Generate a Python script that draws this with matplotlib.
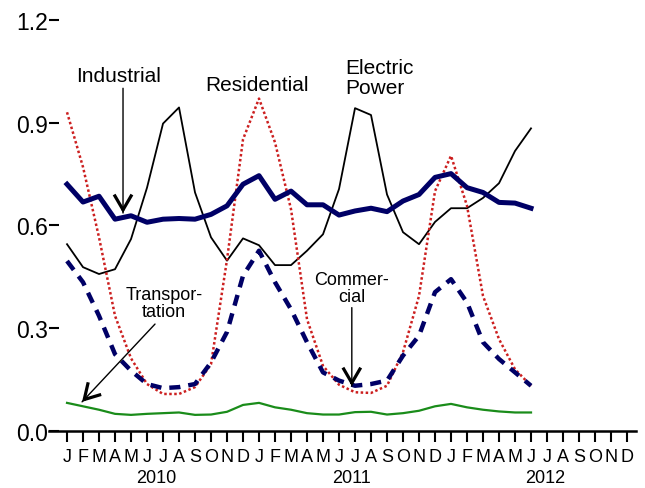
import matplotlib.pyplot as plt

plt.rcParams['font.family'] = ['Liberation Sans', 'DejaVu Sans']

# months Jan 2010 .. Jun 2012
months = list(range(30))
month_labels = ['J', 'F', 'M', 'A', 'M', 'J', 'J', 'A', 'S', 'O', 'N', 'D'] * 3
years = ['2010', '2011', '2012']
year_pos = [5.6, 17.8, 29.9]

industrial = [0.72, 0.668, 0.685, 0.618, 0.628, 0.609, 0.618, 0.62, 0.618, 0.632,
              0.657, 0.72, 0.745, 0.676, 0.70, 0.66, 0.66, 0.63, 0.642, 0.65,
              0.64, 0.671, 0.69, 0.74, 0.751, 0.71, 0.696, 0.667, 0.665, 0.65]
electric = [0.545, 0.478, 0.458, 0.472, 0.56, 0.71, 0.897, 0.944, 0.696, 0.565,
            0.497, 0.562, 0.542, 0.484, 0.484, 0.526, 0.574, 0.706, 0.942, 0.922,
            0.69, 0.58, 0.545, 0.61, 0.65, 0.65, 0.68, 0.723, 0.817, 0.883]
residential = [0.93, 0.77, 0.565, 0.336, 0.212, 0.137, 0.108, 0.108, 0.128, 0.195,
               0.50, 0.851, 0.97, 0.842, 0.647, 0.326, 0.19, 0.135, 0.113, 0.111,
               0.132, 0.23, 0.394, 0.70, 0.803, 0.657, 0.394, 0.268, 0.18, 0.132]
commercial = [0.496, 0.434, 0.336, 0.224, 0.176, 0.137, 0.125, 0.128, 0.137, 0.20,
              0.289, 0.453, 0.526, 0.434, 0.355, 0.259, 0.171, 0.147, 0.132, 0.137,
              0.147, 0.22, 0.278, 0.405, 0.443, 0.375, 0.259, 0.21, 0.171, 0.132]
transport = [0.082, 0.072, 0.062, 0.05, 0.047, 0.05, 0.052, 0.054, 0.047, 0.048,
             0.056, 0.076, 0.082, 0.069, 0.062, 0.052, 0.048, 0.048, 0.055, 0.056,
             0.048, 0.052, 0.059, 0.072, 0.079, 0.069, 0.062, 0.057, 0.054, 0.054]

fig = plt.figure(figsize=(6.45, 4.89), dpi=100)
ax = fig.add_axes([0.076, 0.1166, 0.910, 0.841])

ax.plot(months, electric, color='black', lw=1.3)
ax.plot(months, residential, color='#cc1f1f', lw=1.8, linestyle=(0, (1, 1)))
ax.plot(months, commercial, color='#000066', lw=3.2, linestyle=(0, (2.5, 1.8)),
        dash_capstyle='butt')
ax.plot(months, industrial, color='#000066', lw=3.6, solid_joinstyle='round')
ax.plot(months, transport, color='#1a8c1a', lw=1.6)

ax.set_xlim(-1.125, 35.56)
ax.set_ylim(0, 1.2)

for s in ['top', 'right', 'left']:
    ax.spines[s].set_visible(False)
ax.spines['bottom'].set_linewidth(1.8)

ax.set_yticks([0.0, 0.3, 0.6, 0.9, 1.2])
ax.set_yticklabels(['0.0', '0.3', '0.6', '0.9', '1.2'], fontsize=16.5)
ax.tick_params(axis='y', direction='in', length=7.5, width=1.5, pad=1)

ax.set_xticks(range(36))
ax.set_xticklabels(month_labels, fontsize=13)
ax.tick_params(axis='x', direction='out', length=8, width=1.5, pad=4)

for y, p in zip(years, year_pos):
    ax.text(p, -0.112, y, transform=ax.get_xaxis_transform(), ha='center',
            va='center', fontsize=13)


def arrow(start, tip):
    # thin shaft, bold chevron head
    ax.annotate('', xy=tip, xytext=start,
                arrowprops=dict(arrowstyle='-', lw=1, shrinkA=0, shrinkB=0))
    back = (tip[0] + (start[0] - tip[0]) * 0.04, tip[1] + (start[1] - tip[1]) * 0.04)
    ax.annotate('', xy=tip, xytext=back,
                arrowprops=dict(arrowstyle='->,head_length=0.55,head_width=0.32',
                                lw=2.3, shrinkA=0, shrinkB=0, mutation_scale=20,
                                joinstyle='miter', capstyle='butt'))


# labels
ax.text(3.25, 1.038, 'Industrial', ha='center', va='center', fontsize=15)
arrow((3.5, 1.0), (3.5, 0.636))
ax.text(11.85, 1.012, 'Residential', ha='center', va='center', fontsize=15)
ax.text(17.4, 1.032, 'Electric\nPower', ha='left', va='center', fontsize=15,
        linespacing=1.05)
ax.text(17.8, 0.417, 'Commer-\ncial', ha='center', va='center', fontsize=13,
        linespacing=1.05)
arrow((17.8, 0.36), (17.8, 0.131))
ax.text(6.06, 0.373, 'Transpor-\ntation', ha='center', va='center', fontsize=13,
        linespacing=1.05)
arrow((5.5, 0.312), (0.94, 0.085))

fig.savefig('out.png', dpi=100)
